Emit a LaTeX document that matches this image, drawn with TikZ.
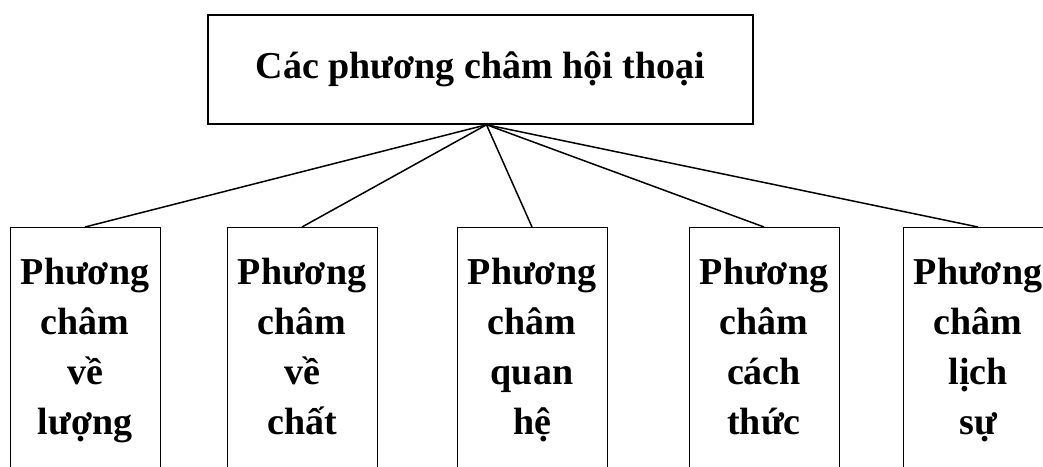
\documentclass[tikz,border=0pt]{standalone}
\usepackage{fontspec}
\setmainfont{Liberation Serif}
\begin{document}
\begin{tikzpicture}[x=1pt, y=-1pt,
    every node/.style={font=\bfseries\fontsize{38}{50}\selectfont},
    top/.style={draw, line width=1.5pt, minimum width=545pt, minimum height=109pt},
    leaf/.style={draw, line width=0.8pt, anchor=north, text width=145pt, minimum width=150pt,
                 align=center, inner xsep=0pt, inner ysep=31pt,
                 text height=26pt, text depth=250pt}]
    \useasboundingbox (0,0) rectangle (1043,466);
    \clip (0,0) rectangle (1043,466);

    \node[top] (T) at (480.5,69.5) {Các phương châm hội thoại};
    \coordinate (H) at ([xshift=6pt]T.south);

    \node[leaf] (L1) at (85,227)  {Phương\\châm\\về\\lượng};
    \node[leaf] (L2) at (302,227) {Phương\\châm\\về\\chất};
    \node[leaf] (L3) at (532,227) {Phương\\châm\\quan\\hệ};
    \node[leaf] (L4) at (764,227) {Phương\\châm\\cách\\thức};
    \node[leaf] (L5) at (978,227) {Phương\\châm\\lịch\\sự};

    \foreach \n in {L1,L2,L3,L4,L5}
        \draw[line width=1.5pt] (H) -- (\n.north);
\end{tikzpicture}
\end{document}
